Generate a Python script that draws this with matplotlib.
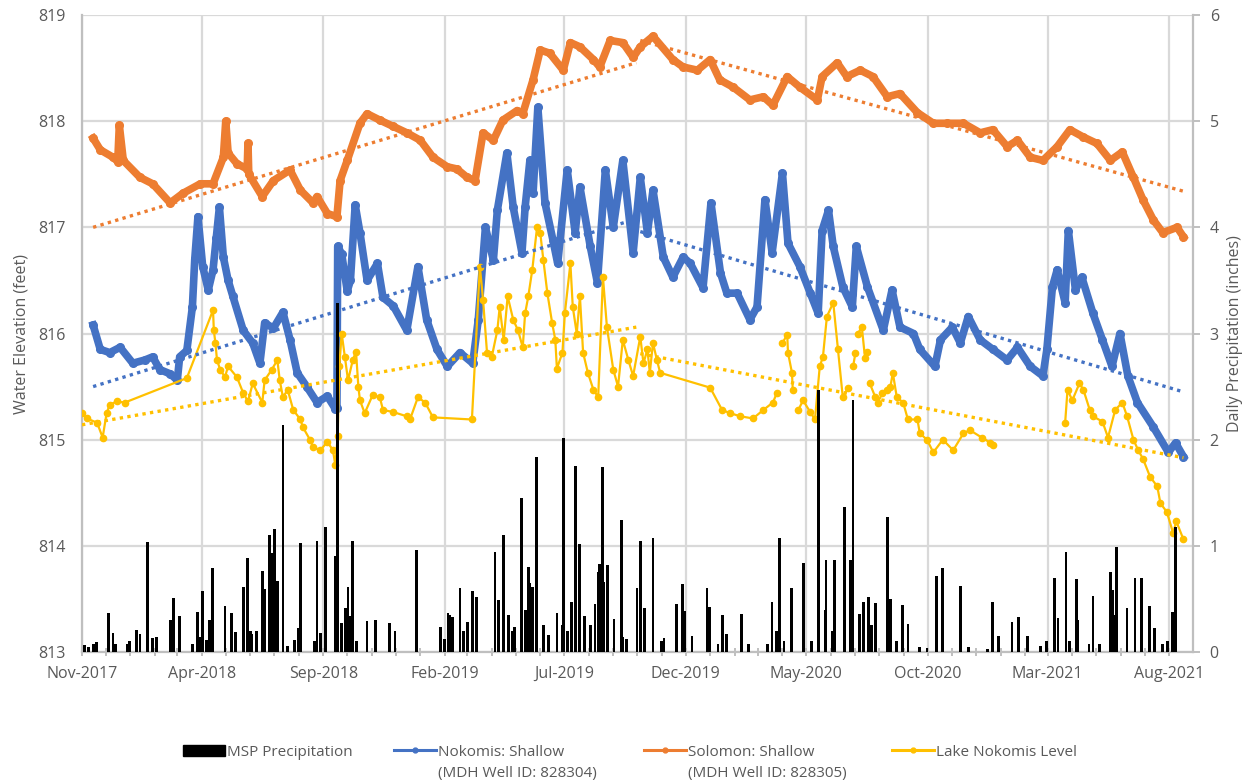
import matplotlib
matplotlib.use('Agg')
import matplotlib.pyplot as plt
import matplotlib.dates as mdates
from matplotlib.lines import Line2D
from matplotlib.patches import Patch
import numpy as np
import pandas as pd

start = pd.Timestamp('2017-11-01')

# Nokomis: Shallow well (days since 1 Nov 2017, water elevation in feet)
nokomis_day = [14, 23, 35, 48, 64, 79, 89, 98, 111, 120, 123, 132, 139, 142, 146, 152, 159, 165,
               169, 173, 178, 184, 190, 203, 215, 224, 230, 241, 253, 262, 271, 283, 296, 309, 319,
               321, 322, 327, 334, 338, 344, 350, 359, 372, 379, 392, 409, 423, 434, 447, 460, 476,
               492, 499, 508, 518, 523, 535, 543, 554, 558, 564, 568, 574, 583, 593, 599, 611, 621,
               627, 640, 649, 659, 669, 681, 694, 703, 712, 719, 732, 744, 757, 766, 782, 792, 804,
               812, 825, 841, 850, 860, 869, 882, 889, 904, 917, 927, 932, 940, 946, 958, 970, 975,
               989, 1009, 1020, 1030, 1047, 1055, 1074, 1081, 1096, 1106, 1116, 1131, 1147, 1165,
               1178, 1194, 1210, 1215, 1222, 1228, 1238, 1242, 1251, 1259, 1273, 1285, 1297, 1307,
               1317, 1329, 1349, 1368, 1377, 1387]
nokomis_elev = [816.08, 815.85, 815.82, 815.87, 815.72, 815.75, 815.78, 815.66, 815.62, 815.56,
                815.78, 815.84, 816.25, 816.70, 817.10, 816.63, 816.41, 816.60, 816.90, 817.19,
                816.72, 816.50, 816.35, 816.03, 815.91, 815.72, 816.10, 816.05, 816.20, 815.94,
                815.63, 815.50, 815.35, 815.41, 815.29, 815.30, 816.82, 816.75, 816.40, 816.50,
                817.21, 816.95, 816.50, 816.66, 816.34, 816.26, 816.03, 816.63, 816.13, 815.85,
                815.69, 815.82, 815.72, 816.13, 817.00, 816.69, 817.16, 817.70, 817.19, 816.76,
                817.19, 817.63, 817.32, 818.13, 817.23, 816.88, 816.66, 817.54, 816.95, 817.38,
                816.82, 816.48, 817.54, 817.00, 817.63, 816.76, 817.47, 816.95, 817.35, 816.72,
                816.53, 816.72, 816.66, 816.43, 817.23, 816.57, 816.38, 816.38, 816.13, 816.25,
                817.26, 816.76, 817.51, 816.85, 816.63, 816.38, 816.19, 816.97, 817.16, 816.82,
                816.44, 816.25, 816.82, 816.44, 816.03, 816.41, 816.06, 816.00, 815.85, 815.69,
                815.94, 816.06, 815.91, 816.16, 815.94, 815.85, 815.75, 815.87, 815.69, 815.60,
                815.85, 816.44, 816.60, 816.29, 816.97, 816.41, 816.53, 816.19, 815.94, 815.69,
                816.00, 815.60, 815.35, 815.12, 814.88, 814.97, 814.84]

# Solomon: Shallow well
solomon_day = [14, 23, 39, 45, 47, 52, 73, 89, 111, 127, 149, 165, 178, 181, 184, 195, 208, 209,
               210, 227, 241, 262, 275, 291, 296, 309, 321, 325, 334, 350, 359, 375, 392, 409, 426,
               442, 460, 472, 485, 495, 505, 518, 530, 548, 555, 568, 577, 589, 606, 615, 627, 644,
               652, 665, 681, 694, 703, 719, 744, 757, 775, 791, 803, 820, 841, 858, 870, 888, 904,
               926, 932, 951, 963, 980, 996, 1014, 1030, 1052, 1072, 1089, 1110, 1131, 1147, 1165,
               1178, 1194, 1210, 1228, 1244, 1261, 1278, 1295, 1310, 1324, 1336, 1349, 1361, 1379,
               1387]
solomon_elev = [817.84, 817.73, 817.66, 817.62, 817.96, 817.63, 817.47, 817.41, 817.23, 817.32,
                817.41, 817.41, 817.66, 818.00, 817.70, 817.60, 817.55, 817.79, 817.50, 817.29,
                817.44, 817.54, 817.35, 817.23, 817.29, 817.13, 817.10, 817.44, 817.63, 817.98,
                818.07, 818.01, 817.95, 817.89, 817.82, 817.66, 817.57, 817.55, 817.47, 817.44,
                817.89, 817.82, 818.01, 818.10, 818.07, 818.39, 818.67, 818.64, 818.48, 818.74,
                818.70, 818.58, 818.51, 818.76, 818.74, 818.60, 818.70, 818.80, 818.58, 818.51,
                818.48, 818.58, 818.39, 818.32, 818.20, 818.23, 818.15, 818.42, 818.32, 818.20,
                818.42, 818.55, 818.42, 818.48, 818.42, 818.23, 818.26, 818.08, 817.98, 817.98,
                817.98, 817.89, 817.92, 817.76, 817.82, 817.66, 817.63, 817.76, 817.92, 817.85,
                817.79, 817.63, 817.71, 817.47, 817.26, 817.07, 816.95, 817.00, 816.91]

# Lake Nokomis level (None = no reading, line is broken)
lake_day = [0, 6, 19, 26, 31, 35, 44, 54, 132, 165, 166, 168, 170, 174, 180, 184, 195, 203, 209,
            215, 227, 230, 239, 246, 249, 253, 259, 266, 275, 278, 287, 291, 300, 309, 316, 319,
            322, 324, 327, 331, 335, 341, 345, 348, 350, 356, 366, 375, 379, 392, 409, 413, 423,
            432, 442, 491, 501, 505, 510, 516, 523, 526, 531, 536, 543, 549, 555, 558, 562, 567,
            573, 577, 581, 586, 592, 596, 598, 605, 608, 615, 618, 623, 627, 631, 637, 644, 650,
            656, 661, 669, 675, 681, 688, 694, 703, 707, 712, 715, 719, 724, 728, 791, 806, 816,
            829, 845, 858, 870, 875, 878, 882, 888, 889, 894, 895, 898, 902, 908, 917, 923, 929,
            933, 938, 946, 952, 958, 965, 968, 971, 974, 975, 977, 982, 986, 989, 990, 992, 999,
            1002, 1008, 1014, 1018, 1021, 1026, 1034, 1040, 1052, 1055, 1064, 1072, 1084, 1097,
            1110, 1118, 1133, 1144, 1147, 1190, 1238, 1241, 1247, 1256, 1261, 1269, 1273, 1285,
            1292, 1301, 1310, 1316, 1324, 1330, 1336, 1345, 1354, 1358, 1366, 1374, 1378, 1387]
lake_level = [815.25, 815.20, 815.16, 815.02, 815.25, 815.33, 815.36, 815.35, 815.58, 816.22,
              816.03, 815.91, 815.75, 815.66, 815.59, 815.69, 815.59, 815.44, 815.36, 815.53,
              815.35, 815.56, 815.66, 815.75, 815.56, 815.40, 815.47, 815.28, 815.19, 815.12,
              815.00, 814.93, 814.90, 814.98, 814.90, 814.76, 815.03, 815.69, 816.00, 815.78,
              815.56, 815.75, 815.83, 815.50, 815.37, 815.25, 815.42, 815.40, 815.28, 815.26,
              815.22, 815.19, 815.40, 815.35, 815.21, 815.19, 816.63, 816.32, 815.82, 815.78,
              816.03, 816.25, 815.94, 816.35, 816.13, 816.03, 815.87, 816.19, 816.35, 816.60,
              817.00, 816.95, 816.69, 816.38, 816.10, 815.94, 815.67, 815.82, 816.19, 816.66,
              816.25, 816.00, 816.35, 815.82, 815.63, 815.47, 815.40, 816.53, 816.06, 815.66,
              815.50, 815.94, 815.75, 815.60, 815.97, 815.72, 815.85, 815.63, 815.91, 815.75,
              815.63, 815.49, 815.28, 815.25, 815.22, 815.20, 815.28, 815.35, 815.44, None,
              815.91, 815.99, 815.82, 815.63, 815.47, None, 815.28, 815.37, 815.26, 815.19,
              815.69, 815.78, 816.16, 816.29, 815.85, 815.40, 815.49, None, 815.69, 815.82,
              None, 816.00, 816.06, 815.77, 815.83, None, 815.53, 815.40, 815.35, 815.44,
              815.47, 815.50, 815.63, 815.40, 815.35, 815.19, 815.19, 815.06, 815.00, 814.88,
              815.00, 814.90, 815.06, 815.09, 815.02, 814.97, 814.95, None, 815.16, 815.47,
              815.37, 815.53, 815.47, 815.28, 815.22, 815.17, 815.02, 815.28, 815.35, 815.22,
              815.00, 814.90, 814.82, 814.65, 814.56, 814.40, 814.32, 814.12, 814.23, 814.06]

# linear trend lines: rising to autumn 2019, falling afterwards
trend_day = [14, 698, 703, 1387]
nokomis_trend = [815.50, 817.08, 816.96, 815.45]
solomon_trend = [817.00, 818.55, 818.76, 817.34]
lake_trend_day = [0, 698, 703, 1387]
lake_trend = [815.14, 816.06, 815.81, 814.83]

# MSP daily precipitation (inches)
precip_day = [3, 8, 14, 18, 33, 39, 42, 57, 60, 69, 73, 82, 89, 94, 111, 115, 123, 139, 145, 149,
              152, 157, 161, 164, 180, 188, 193, 203, 208, 212, 214, 220, 227, 230, 236, 239, 242,
              246, 253, 259, 268, 272, 275, 293, 296, 300, 307, 319, 322, 327, 332, 335, 338, 341,
              346, 359, 370, 387, 394, 421, 451, 456, 461, 463, 467, 476, 480, 485, 492, 497, 520,
              524, 531, 537, 542, 545, 553, 558, 562, 564, 567, 572, 581, 587, 598, 605, 606, 611,
              616, 621, 626, 633, 640, 646, 650, 652, 655, 657, 662, 670, 679, 681, 686, 699, 703,
              708, 719, 730, 733, 749, 756, 759, 768, 787, 790, 801, 807, 812, 830, 839, 863, 869,
              875, 878, 884, 893, 909, 919, 927, 936, 937, 945, 948, 960, 968, 971, 979, 984, 990,
              994, 999, 1014, 1018, 1026, 1033, 1040, 1055, 1064, 1076, 1084, 1106, 1116, 1140,
              1147, 1154, 1171, 1179, 1191, 1207, 1215, 1225, 1229, 1239, 1243, 1252, 1254, 1268,
              1273, 1281, 1295, 1298, 1301, 1303, 1316, 1326, 1334, 1344, 1351, 1361, 1367, 1373,
              1377]
precip_in = [0.07, 0.05, 0.08, 0.09, 0.37, 0.18, 0.08, 0.08, 0.10, 0.21, 0.17, 1.04, 0.13, 0.14,
             0.30, 0.51, 0.34, 0.08, 0.38, 0.14, 0.57, 0.11, 0.30, 0.79, 0.43, 0.37, 0.19, 0.61,
             0.89, 0.20, 0.17, 0.20, 0.76, 0.59, 1.10, 0.93, 1.16, 0.67, 2.14, 0.06, 0.11, 0.23,
             1.03, 0.10, 1.05, 0.18, 1.18, 0.90, 3.29, 0.27, 0.41, 0.61, 0.34, 1.05, 0.10, 0.29,
             0.30, 0.27, 0.20, 0.96, 0.24, 0.12, 0.37, 0.35, 0.33, 0.60, 0.20, 0.28, 0.57, 0.52,
             0.94, 0.49, 1.10, 0.35, 0.20, 0.24, 1.45, 0.40, 0.80, 0.65, 0.61, 1.84, 0.25, 0.16,
             0.37, 0.25, 2.02, 0.20, 0.47, 1.75, 1.02, 0.34, 0.25, 0.45, 0.75, 0.83, 1.74, 0.66,
             0.82, 0.31, 1.24, 0.14, 0.12, 0.60, 1.05, 0.41, 1.07, 0.10, 0.13, 0.45, 0.64, 0.39,
             0.15, 0.60, 0.42, 0.08, 0.35, 0.17, 0.36, 0.08, 0.08, 0.47, 0.20, 1.07, 0.10, 0.60,
             0.84, 0.10, 2.47, 0.40, 0.87, 0.20, 0.87, 1.37, 0.87, 2.37, 0.36, 0.47, 0.52, 0.25,
             0.46, 1.27, 0.50, 0.10, 0.44, 0.26, 0.05, 0.04, 0.72, 0.79, 0.62, 0.05, 0.03, 0.47,
             0.15, 0.28, 0.33, 0.15, 0.06, 0.10, 0.70, 0.32, 0.94, 0.10, 0.69, 0.30, 0.08, 0.53,
             0.08, 0.75, 0.58, 0.35, 0.99, 0.41, 0.70, 0.70, 0.43, 0.23, 0.08, 0.10, 0.38, 1.18]


def to_dates(days):
    return start + pd.to_timedelta(np.asarray(days, dtype=float), unit='D')


blue = '#4472C4'
orange = '#ED7D31'
yellow = '#FFC000'
grey_txt = '#595959'
grid_c = '#D9D9D9'
axis_c = '#BFBFBF'

plt.rcParams['font.family'] = ['Open Sans', 'DejaVu Sans']

W, H = 1252, 782
fig = plt.figure(figsize=(W / 100, H / 100), dpi=100)
ax = fig.add_axes([82 / W, 1 - 652 / H, 1111 / W, 637 / H])
ax2 = ax.twinx()

ax.plot(to_dates(nokomis_day), nokomis_elev, color=blue, lw=5.5, marker='o', ms=5.5,
        solid_joinstyle='round', zorder=3)
ax.plot(to_dates(solomon_day), solomon_elev, color=orange, lw=5.5, marker='o', ms=5.5,
        solid_joinstyle='round', zorder=3)
ax.plot(to_dates(lake_day), np.array(lake_level, dtype=float), color=yellow, lw=1.6,
        marker='o', ms=4.5, zorder=4)

dots = (0, (1, 1.3))
for days, vals, c in [(trend_day, nokomis_trend, blue), (trend_day, solomon_trend, orange),
                      (lake_trend_day, lake_trend, yellow)]:
    for i in (0, 2):
        ax.plot(to_dates(days[i:i + 2]), vals[i:i + 2], color=c, lw=2.4, ls=dots, zorder=5)

ax2.bar(to_dates(precip_day), precip_in, width=3.5, color='black', zorder=6)

x0, x1 = pd.Timestamp('2017-11-01'), pd.Timestamp('2021-08-31')
ax.set_xlim(x0, x1)
ax.set_ylim(813, 819)
ax2.set_ylim(0, 6)
ax.set_yticks(range(813, 820))
ax2.set_yticks(range(0, 7))

major = pd.date_range('2017-11-01', '2021-08-01', freq='5MS')
ax.set_xticks(major)
ax.xaxis.set_major_formatter(mdates.DateFormatter('%b-%Y'))
ax.xaxis.set_minor_locator(mdates.MonthLocator())

ax.grid(True, which='major', color=grid_c, lw=1.6, zorder=0)
ax.set_axisbelow(True)

for s in ['top', 'right']:
    ax.spines[s].set_visible(False)
for s in ['top', 'left', 'bottom']:
    ax2.spines[s].set_visible(False)
ax.spines['left'].set_color(axis_c)
ax.spines['left'].set_linewidth(1.6)
ax.spines['bottom'].set_color(axis_c)
ax.spines['bottom'].set_linewidth(1.6)
ax2.spines['right'].set_color(axis_c)
ax2.spines['right'].set_linewidth(1.6)

ax.tick_params(axis='y', length=0, pad=12, labelsize=11.5, labelcolor=grey_txt)
ax.tick_params(axis='x', which='both', direction='inout', length=6, width=1.4,
               color=axis_c, pad=7, labelsize=11.5, labelcolor=grey_txt)
ax2.tick_params(axis='y', direction='out', length=5, width=1.4, color=axis_c, pad=7,
                labelsize=11.5, labelcolor=grey_txt)

ax.set_ylabel('Water Elevation (feet)', fontsize=11.5, color=grey_txt)
ax.yaxis.set_label_coords(-0.047, 0.5)
ax2.set_ylabel('Daily Precipitation (inches)', fontsize=11.5, color=grey_txt)
ax2.yaxis.set_label_coords(1.031, 0.5)

# legend: one entry per box so each sits where the original puts it
legend_items = [
    (Patch(facecolor='black', edgecolor='black'), 'MSP Precipitation', 183, None),
    (Line2D([], [], color=blue, lw=2.2, marker='o', ms=3.5), 'Nokomis: Shallow', 394,
     '(MDH Well ID: 828304)'),
    (Line2D([], [], color=orange, lw=2.2, marker='o', ms=3.5), 'Solomon: Shallow', 644,
     '(MDH Well ID: 828305)'),
    (Line2D([], [], color=yellow, lw=2.2, marker='o', ms=3.5), 'Lake Nokomis Level', 892, None),
]
for handle, label, x, second in legend_items:
    fig.legend([handle], [label], loc='center left', bbox_to_anchor=(x / W, 1 - 752 / H),
               frameon=False, borderpad=0, borderaxespad=0, handlelength=2.75,
               handletextpad=0.15, fontsize=11, labelcolor=grey_txt)
    if second:
        fig.text((x + 44) / W, 1 - 773 / H, second, fontsize=11, color=grey_txt,
                 ha='left', va='center')

fig.savefig('out.png', dpi=100)
